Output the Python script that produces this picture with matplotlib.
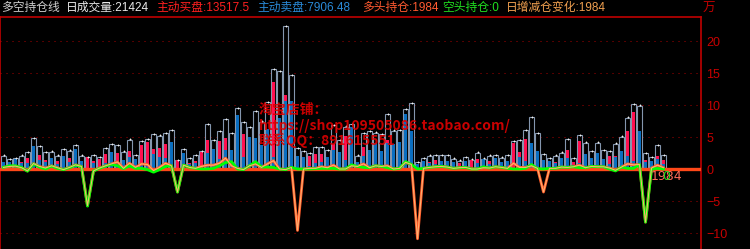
import matplotlib
matplotlib.use('Agg')
import matplotlib.pyplot as plt
import numpy as np

plt.rcParams['font.family'] = ['Noto Sans CJK SC', 'DejaVu Sans']

# values in 万 (10,000 lots), one entry per trading day
buy = [0.95, 0.40, 0.16, 1.12, 1.72, 1.15, 2.24, 1.46, 0.93, 1.30,
       1.00, 1.77, 0.55, 0.78, 1.85, 1.25, 1.56, 2.40, 1.30, 2.50,
       1.30, 2.75, 0.60, 3.75, 4.20, 3.10, 3.30, 3.90, 1.90, 1.35,
       0.60, 0.94, 1.25, 2.70, 4.55, 1.30, 4.40, 4.80, 2.60, 1.10,
       5.50, 1.55, 4.10, 3.70, 4.20, 13.60, 7.30, 11.60, 4.00, 1.30,
       0.95, 2.00, 2.40, 2.35, 1.10, 3.85, 1.80, 5.20, 0.50, 0.95,
       3.50, 2.90, 1.70, 2.60, 4.50, 2.10, 1.90, 0.70, 4.40, 0.20,
       0.40, 1.15, 1.46, 0.90, 0.95, 0.60, 0.94, 0.60, 1.40, 1.60,
       0.10, 1.25, 0.50, 0.60, 1.00, 4.10, 2.60, 4.75, 4.00, 2.80,
       0.90, 0.40, 1.15, 0.80, 3.00, 1.04, 4.40, 1.80, 1.00, 1.60,
       1.40, 2.05, 2.05, 2.25, 5.90, 8.85, 4.00, 1.46, 0.60, 2.10,
       1.35175]
sell = [1.15, 1.15, 1.56, 0.94, 0.94, 3.65, 1.35, 1.15, 1.77, 0.78,
        2.08, 1.10, 3.20, 1.30, 0.05, 0.95, 0.30, 0.90, 2.60, 1.25,
        1.40, 1.85, 1.56, 0.60, 0.50, 2.35, 1.90, 1.70, 4.20, 0.05,
        2.50, 0.73, 0.90, 0.05, 2.45, 3.20, 1.50, 2.95, 3.00, 8.40,
        1.85, 4.95, 4.90, 3.70, 6.25, 1.95, 8.00, 10.70, 10.70, 2.00,
        1.80, 0.50, 1.00, 1.10, 1.80, 3.00, 2.70, 1.40, 6.50, 1.15,
        2.05, 3.00, 4.00, 2.80, 4.10, 3.90, 4.20, 8.60, 5.90, 0.83,
        1.25, 0.94, 0.73, 1.30, 1.25, 1.04, 0.36, 1.25, 0.05, 0.94,
        1.50, 0.83, 1.67, 1.15, 1.20, 0.20, 1.90, 1.30, 4.06, 2.80,
        1.40, 1.30, 0.94, 1.77, 1.67, 0.70, 0.94, 2.34, 1.77, 2.50,
        1.56, 0.73, 1.90, 2.80, 2.10, 1.30, 5.90, 1.04, 1.30, 1.60,
        0.790648]
long_hold = [0.25, 0.40, 0.45, 0.20, -0.30, 0.85, 0.40, 0.15, 0.50, 0.20,
             -0.10, 0.25, 0.65, 0.40, -5.70, -0.30, 0.15, 0.50, 0.80, 1.10,
             0.10, 0.90, 0.25, 0.80, 0.70, -0.25, 0.25, 0.90, 0.50, -3.60,
             0.60, 0.25, 0.10, 0.40, 0.60, 0.60, 0.90, 1.70, 0.50, 0.10,
             -0.10, 0.50, 0.80, 0.25, 0.80, 1.30, 0.00, -0.10, 0.25, -9.60,
             0.00, 0.10, 0.10, 0.35, 0.20, 0.60, 0.00, 0.00, 0.50, 0.40,
             0.80, 0.20, 0.50, 0.40, 0.50, 0.00, 0.10, 1.05, 0.70, -10.90,
             0.10, 0.25, 0.35, 0.40, 0.30, 0.10, 0.20, 0.25, 0.00, 0.00,
             0.20, 0.15, 0.35, 0.25, 0.10, 0.90, 0.25, 0.25, 0.50, 0.10,
             -3.60, 0.10, 0.10, 0.30, 0.25, 0.35, 0.60, 0.20, 0.40, 0.35,
             0.35, 0.15, -0.20, 0.30, 0.80, 0.65, 0.70, -8.30, 0.15, 0.60,
             0.1984]
short_hold = [0.25, 0.50, 0.50, 0.25, -0.35, 0.80, 0.30, 0.00, 0.45, 0.10,
              -0.10, 0.20, 0.60, 0.35, -5.80, -0.30, 0.10, 0.45, 0.70, 0.50,
              0.05, 0.50, 0.10, 0.10, -0.10, -0.50, -0.10, 0.40, 0.50, -3.60,
              0.60, 0.25, 0.10, 0.00, 0.00, 0.10, 0.50, 1.00, 1.15, 0.00,
              -0.10, 0.50, 1.15, 0.30, 0.30, 0.25, 0.00, -0.10, 0.25, 0.00,
              0.00, 0.00, 0.05, 0.10, 0.10, 0.10, 0.00, 0.00, 0.65, 0.40,
              0.25, 0.20, 0.50, 0.40, 0.20, 0.00, 0.10, 1.15, 0.70, 0.00,
              0.10, 0.25, 0.35, 0.40, 0.30, 0.10, 0.20, 0.25, 0.00, 0.00,
              0.35, 0.15, 0.35, 0.25, 0.10, 0.00, 0.00, 0.10, 0.70, 0.05,
              0.00, 0.10, 0.10, 0.30, 0.25, 0.35, 0.20, 0.20, 0.40, 0.35,
              0.35, 0.00, -0.30, 0.30, 0.10, 0.10, 0.70, -8.30, 0.00, 0.10,
              0.00]
daily_chg = list(long_hold)

y_ticks = [20, 15, 10, 5, 0, -5, -10]

W, H = 750, 249
fig = plt.figure(figsize=(W / 100, H / 100), dpi=100, facecolor='black')
ax = fig.add_axes([0.0, 0.0, 701 / W, 232 / H], facecolor='black')

x = np.arange(len(buy))
buy_a = np.array(buy)
sell_a = np.array(sell)
vol = buy_a + sell_a

# hollow total-volume bars, then active buy (red) under active sell (blue)
ax.bar(x, vol, width=0.72, facecolor='none', edgecolor='#8496ae', linewidth=0.8, zorder=2)
ax.bar(x, buy_a, width=0.6, color='#ff1050', linewidth=0, zorder=3)
ax.bar(x, sell_a, width=0.6, color='#0a6ec0', linewidth=0, zorder=4)
ax.plot(x, vol + 0.05, linestyle='none', marker='+', markersize=1.8,
        markeredgewidth=0.6, color='#f0f0f0', zorder=5)

ax.axhline(0, color='#ff4818', linewidth=2.4, zorder=5)
ax.plot(x, long_hold, color='#ff5a28', linewidth=2.0, zorder=6)
ax.plot(x, short_hold, color='#00ff00', linewidth=2.0, zorder=7)
ax.plot(x, daily_chg, color='#ffb070', linewidth=0.8, zorder=8)

# last values (they overlap in the original too)
ax.text(107.8, -1.1, f'{daily_chg[-1] * 10000:.0f}', color='#ff6a5a',
        fontsize=9, ha='left', va='center', family='DejaVu Sans', zorder=9)
ax.text(109.7, -1.1, f'{short_hold[-1] * 10000:.0f}', color='#20e020',
        fontsize=9, ha='left', va='center', family='DejaVu Sans', zorder=9)

for t in y_ticks:
    ax.axhline(t, color='#a00000', linewidth=0.75, dashes=(1, 4.76), zorder=1)

ax.set_xlim(-3.5 / 6, (701 - 3.5) / 6)
ax.set_ylim(-12.5, 23.75)
ax.set_xticks([])
ax.set_yticks(y_ticks)
ax.yaxis.tick_right()
ax.tick_params(axis='y', length=0, pad=4, labelsize=9, labelcolor='#c80000')
for lab in ax.get_yticklabels():
    lab.set_family('Liberation Sans')
for side in ['left', 'top', 'right']:
    ax.spines[side].set_color('#c00000')
    ax.spines[side].set_linewidth(1.2)
ax.spines['bottom'].set_visible(False)

# watermark
wm = dict(color='#e00000', alpha=0.9, fontsize=10, fontweight='bold', ha='left', va='center', zorder=10)
fig.text(259 / W, 1 - 110 / H, '淘宝店铺：', **wm)
fig.text(259 / W, 1 - 126 / H, 'https://shop109505086.taobao.com/', **wm)
fig.text(259 / W, 1 - 141 / H, '联系QQ：891615551', **wm)

# header
hfont = ['Liberation Sans', 'Noto Sans CJK SC']
header = [
    (1, '多空持仓线', '#d0d0d0'),
    (66, '日成交量:21424', '#e8e8e8'),
    (156, '主动买盘:13517.5', '#ff2020'),
    (257, '主动卖盘:7906.48', '#2a8ad8'),
    (362, '多头持仓:1984', '#ff5a30'),
    (442, '空头持仓:0', '#20e020'),
    (506, '日增减仓变化:1984', '#f0a050'),
]
for px, s, c in header:
    fig.text(px / W, 1 - 8 / H, s, color=c, fontsize=8.5, ha='left', va='center', family=hfont)
fig.text(703 / W, 1 - 8 / H, '万', color='#c00000', fontsize=9, ha='left', va='center')

fig.savefig('out.png', dpi=100, facecolor='black')
